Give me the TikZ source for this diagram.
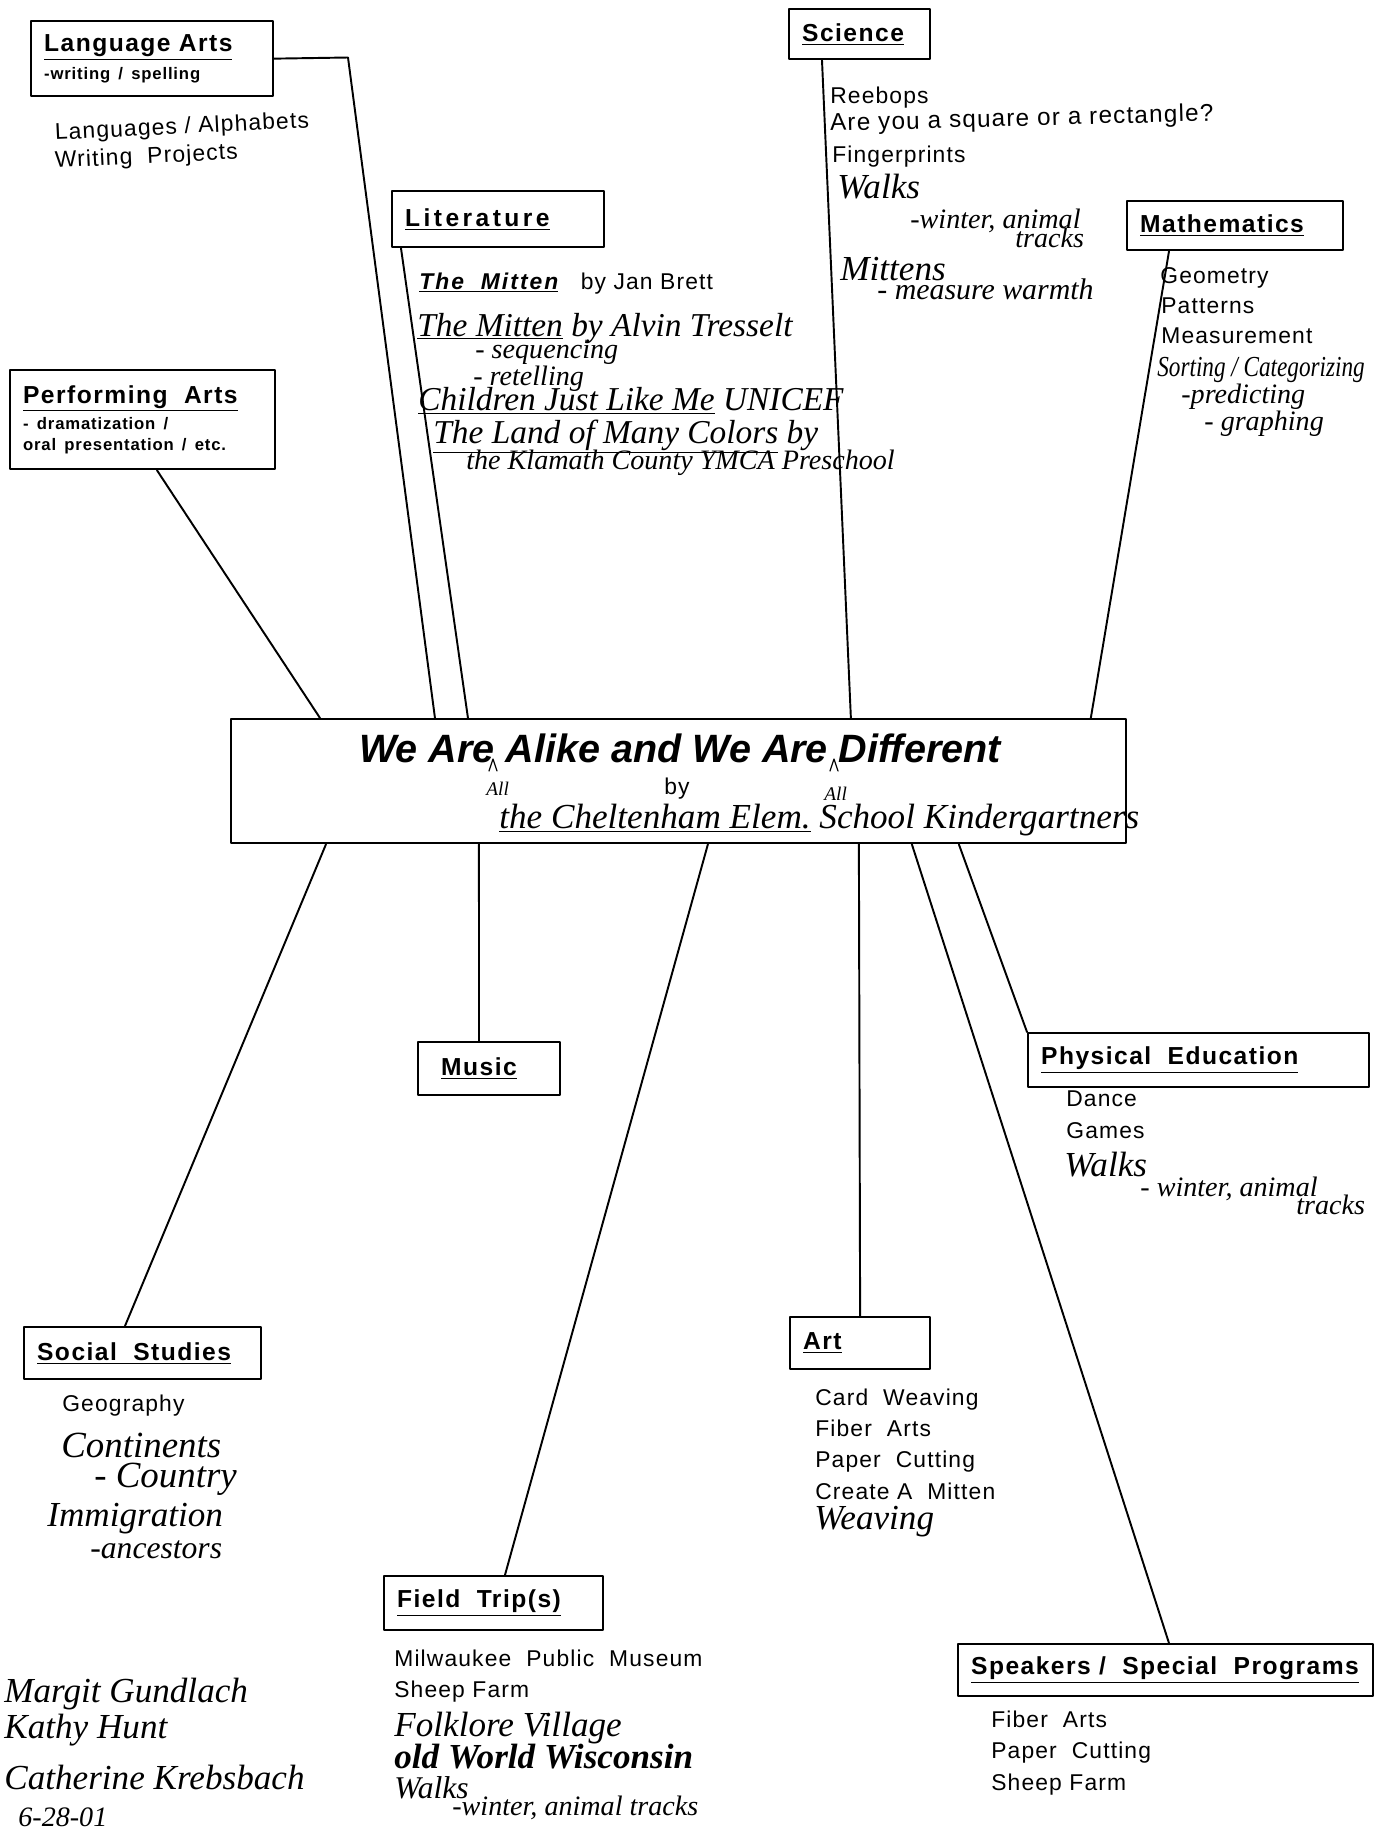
\documentclass[tikz,border=0pt]{standalone}
\usepackage{fontspec}
\setmainfont{Liberation Sans}
\newfontfamily\typedfam{Liberation Sans}[LetterSpace=5]
\newfontfamily\headfam{Liberation Sans}[LetterSpace=6]
\newfontfamily\handfam{Liberation Serif}
\newfontfamily\handnarrow{Liberation Serif}[FakeStretch=0.8]
\usepackage{tikz}
\usetikzlibrary{calc}
\newcommand{\typedfont}{\typedfam\fontsize{13}{17.6}\selectfont}
\newcommand{\headfont}{\headfam\bfseries\fontsize{14}{16}\selectfont}
\newcommand{\smallfont}{\typedfam\fontsize{9.5}{13}\selectfont}
\newcommand{\handfont}{\handfam\itshape\fontsize{20}{24}\selectfont}
\newcommand{\handsmall}{\handfam\itshape\fontsize{16}{19}\selectfont}
\newcommand{\titlefont}{\bfseries\itshape\fontsize{22.5}{27}\selectfont}
\newcommand{\boxhead}[1]{\underline{#1}}
\tikzset{
  subject/.style={draw, line width=1.3pt, anchor=north west, inner xsep=0.26cm, inner ysep=0pt, align=left, font=\headfont},
  hubbox/.style={draw, line width=1.3pt, anchor=north west, inner sep=0pt},
  link/.style={draw, line width=1.1pt},
  typed/.style={anchor=base west, inner sep=0pt, font=\typedfont},
  hand/.style={anchor=base west, inner sep=0pt, font=\handfont},
  handsub/.style={anchor=base west, inner sep=0pt, font=\handsmall},
  caret/.style={draw, line width=0.7pt}
}

\begin{document}
\begin{tikzpicture}[x=0.02cm, y=-0.02cm, line cap=round, line join=round]
  \useasboundingbox (0,0) rectangle (1375,1833);
  % centre
  \node[hubbox, minimum width=17.9cm, minimum height=2.48cm] (hub) at (230,718) {};
  \node[anchor=base, inner sep=0pt, font=\titlefont] (hubtitle) at (680,762) {We Are Alike and We Are Different};
  \node[anchor=base, inner sep=0pt, font=\typedfont] (hubby) at (677,794) {by};
  \node[hand] (hubkids) at (499,828) {\underline{the Cheltenham Elem.} School Kindergartners};
  \node[handsub, font=\handfam\itshape\fontsize{11}{13}\selectfont] (all1) at (486,795) {All};
  \node[handsub, font=\handfam\itshape\fontsize{11}{13}\selectfont] (all2) at (824,800) {All};
  \draw[caret] (489,771) -- (493,759) -- (497,771);
  \draw[caret] (830,771) -- (834,759) -- (838,771);

  % subject boxes
  \node[subject, text width=4.32cm, minimum height=1.5cm] (lang) at (30,20) {\boxhead{Language Arts}\\{\smallfont\bfseries -writing / spelling}};
  \node[subject, text width=2.30cm, minimum height=1.0cm] (sci) at (788,8) {\boxhead{Science}};
  \node[subject, text width=3.72cm, minimum height=1.12cm] (lit) at (391,190) {\boxhead{\addfontfeature{LetterSpace=14}Literature}};
  \node[subject, text width=3.80cm, minimum height=0.98cm] (math) at (1126,200) {\boxhead{Mathematics}};
  \node[subject, text width=4.78cm, minimum height=1.98cm] (perf) at (9,369) {\boxhead{Performing\ \ Arts}\\[-1pt]{\smallfont - dramatization /}\\[-4pt]{\smallfont oral presentation / etc.}};
  \node[subject, text width=2.32cm, minimum height=1.06cm] (music) at (417,1041) {\hspace*{0.2cm}\boxhead{Music}};
  \node[subject, text width=6.30cm, minimum height=1.08cm] (pe) at (1027,1032) {\boxhead{Physical\ \ Education}};
  \node[subject, text width=4.22cm, minimum height=1.04cm] (soc) at (23,1326) {\boxhead{Social\ \ Studies}};
  \node[subject, text width=2.28cm, minimum height=1.04cm] (art) at (789,1316) {\boxhead{Art}};
  \node[subject, text width=3.86cm, minimum height=1.08cm] (field) at (383,1575) {\boxhead{Field\ \ Trip(s)}};
  \node[subject, text width=7.78cm, minimum height=1.04cm] (speak) at (957,1643) {\boxhead{Speakers\ / \ Special\ \ Programs}};

  % connectors
  \coordinate (langbend) at (348,57.5);
  \draw[link] (lang.east) -- (langbend) -- ([xshift=4.10cm]hub.north west);
  \draw[link] ([xshift=0.20cm]lit.south west) -- ([xshift=4.76cm]hub.north west);
  \draw[link] ([xshift=0.68cm]sci.south west) -- ([xshift=12.42cm]hub.north west);
  \draw[link] ([xshift=0.86cm]math.south west) -- ([xshift=17.22cm]hub.north west);
  \draw[link] ([xshift=2.96cm]perf.south west) -- ([xshift=1.80cm]hub.north west);
  \draw[link] ([xshift=1.92cm]hub.south west) -- ([xshift=2.04cm]soc.north west);
  \draw[link] ([xshift=4.98cm]hub.south west) -- ([xshift=1.24cm]music.north west);
  \draw[link] ([xshift=9.56cm]hub.south west) -- ([xshift=2.44cm]field.north west);
  \draw[link] ([xshift=12.58cm]hub.south west) -- (art.north);
  \draw[link] ([xshift=13.64cm]hub.south west) -- ([xshift=4.24cm]speak.north west);
  \draw[link] ([xshift=14.58cm]hub.south west) -- (pe.north west);

  % language arts
  \node[typed, rotate=2.8] (la1) at (55,140) {Languages / Alphabets};
  \node[typed, rotate=2.8] (la2) at (55,168) {Writing\ \ Projects};

  % science
  \node[typed] (sci1) at (830,103) {Reebops};
  \node[typed, rotate=1.5, font=\typedfam\fontsize{13.8}{17.6}\selectfont] (sci2) at (830,131) {Are you a square or a rectangle?};
  \node[typed] (sci3) at (832,162) {Fingerprints};
  \node[hand] (sci4) at (837,198) {Walks};
  \node[handsub] (sci5) at (910,228) {-winter, animal};
  \node[handsub] (sci6) at (1015,247) {tracks};
  \node[hand] (sci7) at (840,280) {Mittens};
  \node[handsub, font=\handfam\itshape\fontsize{17}{20}\selectfont] (sci8) at (877,299) {- measure warmth};

  % literature
  \node[typed] (lit1) at (419,289) {\underline{\bfseries\itshape\addfontfeature{LetterSpace=9}The\ \ Mitten}\ \ \ by Jan Brett};
  \node[hand, font=\handfam\itshape\fontsize{19}{22}\selectfont] (lit2) at (417,336) {\underline{The Mitten} by Alvin Tresselt};
  \node[handsub] (lit3) at (475,358) {- sequencing};
  \node[handsub] (lit4) at (473,385) {- retelling};
  \node[hand, font=\handfam\itshape\fontsize{19}{22}\selectfont] (lit5) at (418,410) {\underline{Children Just Like Me} UNICEF};
  \node[hand, font=\handfam\itshape\fontsize{19}{22}\selectfont] (lit6) at (433,443) {\underline{The Land of Many Colors} by};
  \node[handsub] (lit7) at (466,469) {the Klamath County YMCA Preschool};

  % mathematics
  \node[typed] (math1) at (1160,283) {Geometry};
  \node[typed] (math2) at (1161,313) {Patterns};
  \node[typed] (math3) at (1161,343) {Measurement};
  \node[hand, font=\handnarrow\itshape\fontsize{16.5}{20}\selectfont] (math4) at (1157,376) {Sorting / Categorizing};
  \node[handsub] (math5) at (1181,403) {-predicting};
  \node[handsub] (math6) at (1204,430) {- graphing};

  % physical education
  \node[typed] (pe1) at (1066,1106) {Dance};
  \node[typed] (pe2) at (1066,1138) {Games};
  \node[hand] (pe3) at (1064,1176) {Walks};
  \node[handsub] (pe4) at (1140,1196) {- winter, animal};
  \node[handsub] (pe5) at (1296,1214) {tracks};

  % social studies
  \node[typed] (soc1) at (62,1411) {Geography};
  \node[hand, font=\handfam\itshape\fontsize{21}{24}\selectfont] (soc2) at (61,1457) {Continents};
  \node[hand, font=\handfam\itshape\fontsize{21}{24}\selectfont] (soc3) at (94,1487) {- Country};
  \node[hand] (soc4) at (47,1526) {Immigration};
  \node[handsub, font=\handfam\itshape\fontsize{18}{20}\selectfont] (soc5) at (90,1558) {-ancestors};

  % art
  \node[typed] (art1) at (815,1405) {Card\ \ Weaving};
  \node[typed] (art2) at (815,1436) {Fiber\ \ Arts};
  \node[typed] (art3) at (815,1467) {Paper\ \ Cutting};
  \node[typed] (art4) at (815,1499) {Create\ A\ \ Mitten};
  \node[hand] (art5) at (814,1529) {Weaving};

  % field trips
  \node[typed] (field1) at (394,1666) {Milwaukee\ \ Public\ \ Museum};
  \node[typed] (field2) at (394,1697) {Sheep Farm};
  \node[hand] (field3) at (394,1736) {Folklore Village};
  \node[hand, font=\handfam\bfseries\itshape\fontsize{20}{24}\selectfont] (field4) at (394,1768) {old World Wisconsin};
  \node[hand, font=\handfam\itshape\fontsize{18}{22}\selectfont] (field5) at (394,1798) {Walks};
  \node[handsub] (field6) at (452,1815) {-winter, animal tracks};

  % speakers
  \node[typed] (speak1) at (991,1727) {Fiber\ \ Arts};
  \node[typed] (speak2) at (991,1758) {Paper\ \ Cutting};
  \node[typed] (speak3) at (991,1790) {Sheep Farm};

  % signatures
  \node[hand] (sign1) at (4,1702) {Margit Gundlach};
  \node[hand] (sign2) at (4,1738) {Kathy Hunt};
  \node[hand] (sign3) at (4,1789) {Catherine Krebsbach};
  \node[handsub] (sign4) at (18,1826) {6-28-01};
\end{tikzpicture}
\end{document}
